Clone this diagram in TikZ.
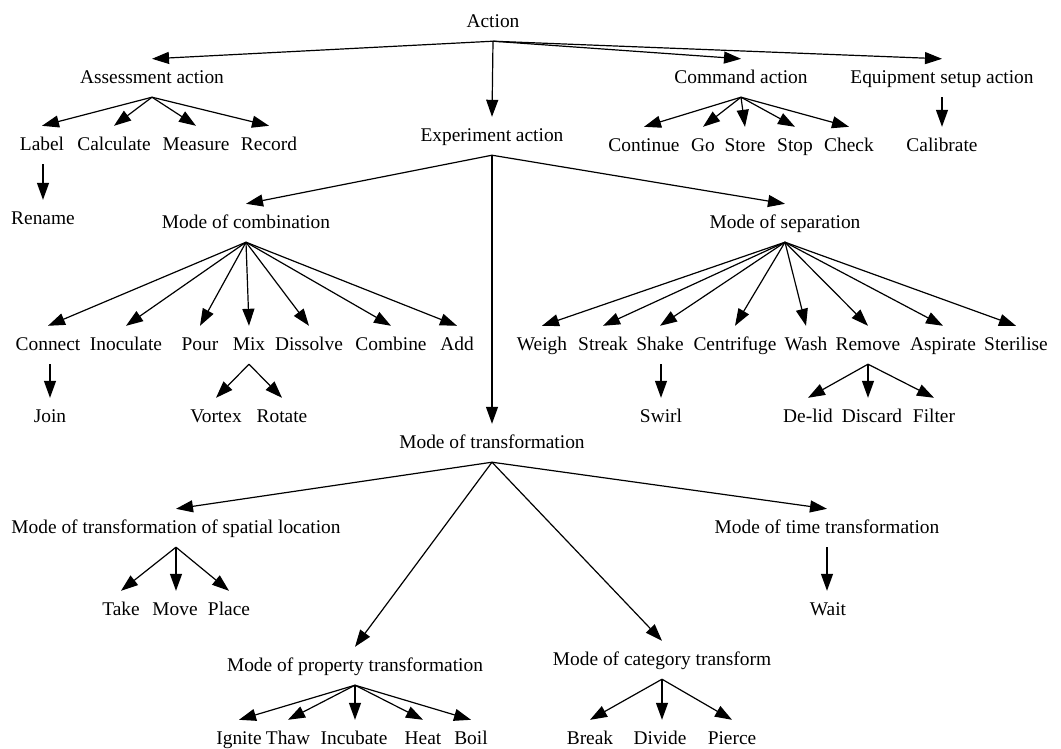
\documentclass[tikz,border=0pt]{standalone}
\usepackage{fontspec}
\setmainfont{Liberation Serif}
\usetikzlibrary{arrows.meta}
\tikzset{
  tx/.style={font=\fontsize{19.4pt}{23pt}\selectfont,text height=13pt,text depth=3pt,
    inner xsep=0pt,inner ysep=11pt},
  ar/.style={-{Triangle[length=17pt,width=12pt]},line width=1.2pt}
}
\begin{document}
\begin{tikzpicture}[x=1pt,y=-1pt]
\useasboundingbox (0,0) rectangle (1061,748);
\node[tx] (act) at (493,22) {Action};
\node[tx] (ass) at (152,78) {Assessment action};
\node[tx] (exp) at (492,136) {Experiment action};
\node[tx] (cmd) at (741,78) {Command action};
\node[tx] (equ) at (942,78) {Equipment setup action};
\node[tx] (lab) at (42,145) {Label};
\node[tx] (cal) at (114,145) {Calculate};
\node[tx] (mea) at (196,145) {Measure};
\node[tx] (rec) at (269,145) {Record};
\node[tx] (ren) at (43,219) {Rename};
\node[tx] (con) at (644,146) {Continue};
\node[tx] (go) at (703,146) {Go};
\node[tx] (sto) at (745,146) {Store};
\node[tx] (stp) at (795,146) {Stop};
\node[tx] (chk) at (849,146) {Check};
\node[tx] (cbr) at (942,146) {Calibrate};
\node[tx] (comb) at (246,223) {Mode of combination};
\node[tx] (sep) at (785,223) {Mode of separation};
\node[tx] (cnn) at (48,345) {Connect};
\node[tx] (ino) at (126,345) {Inoculate};
\node[tx] (pou) at (200,345) {Pour};
\node[tx] (mix) at (249,345) {Mix};
\node[tx] (dis) at (309,345) {Dissolve};
\node[tx] (cmb) at (391,345) {Combine};
\node[tx] (add) at (457,345) {Add};
\node[tx] (joi) at (50,417) {Join};
\node[tx] (vor) at (216,417) {Vortex};
\node[tx] (rot) at (282,417) {Rotate};
\node[tx] (wei) at (542,345) {Weigh};
\node[tx] (str) at (603,345) {Streak};
\node[tx] (sha) at (660,345) {Shake};
\node[tx] (cen) at (735,345) {Centrifuge};
\node[tx] (was) at (806,345) {Wash};
\node[tx] (rem) at (868,345) {Remove};
\node[tx] (asp) at (943,345) {Aspirate};
\node[tx] (ste) at (1016,345) {Sterilise};
\node[tx] (swi) at (661,417) {Swirl};
\node[tx] (del) at (808,417) {De-lid};
\node[tx] (dsc) at (872,417) {Discard};
\node[tx] (fil) at (934,417) {Filter};
\node[tx] (trf) at (492,443) {Mode of transformation};
\node[tx] (spa) at (176,528) {Mode of transformation of spatial location};
\node[tx] (tim) at (827,528) {Mode of time transformation};
\node[tx] (pro) at (355,666) {Mode of property transformation};
\node[tx] (cat) at (662,660) {Mode of category transform};
\node[tx] (tak) at (121,610) {Take};
\node[tx] (mov) at (175,610) {Move};
\node[tx] (pla) at (229,610) {Place};
\node[tx] (wai) at (828,610) {Wait};
\node[tx] (ign) at (239,739) {Ignite};
\node[tx] (tha) at (288,739) {Thaw};
\node[tx] (inc) at (354,739) {Incubate};
\node[tx] (hea) at (423,739) {Heat};
\node[tx] (boi) at (471,739) {Boil};
\node[tx] (bre) at (590,739) {Break};
\node[tx] (div) at (660,739) {Divide};
\node[tx] (pie) at (732,739) {Pierce};
\path (act.south) edge[ar] (ass.north) edge[ar] (exp.north)
  edge[ar] (cmd.north) edge[ar] (equ.north);
\path (ass.south) edge[ar] (lab.north) edge[ar] (cal.north)
  edge[ar] (mea.north) edge[ar] (rec.north);
\path (ren.north |- lab.south) edge[ar] (ren.north);
\path (cmd.south) edge[ar] (con.north) edge[ar] (go.north) edge[ar] (sto.north)
  edge[ar] (stp.north) edge[ar] (chk.north);
\path (equ.south) edge[ar] (cbr.north);
\path (exp.south) edge[ar] (comb.north) edge[ar] (sep.north) edge[ar] (trf.north);
\path (comb.south) edge[ar] (cnn.north) edge[ar] (ino.north) edge[ar] (pou.north)
  edge[ar] (mix.north) edge[ar] (dis.north) edge[ar] (cmb.north) edge[ar] (add.north);
\path (joi.north |- cnn.south) edge[ar] (joi.north);
\path (mix.south) edge[ar] (vor.north) edge[ar] (rot.north);
\path (sep.south) edge[ar] (wei.north) edge[ar] (str.north) edge[ar] (sha.north)
  edge[ar] (cen.north) edge[ar] (was.north) edge[ar] (rem.north)
  edge[ar] (asp.north) edge[ar] (ste.north);
\path (swi.north |- sha.south) edge[ar] (swi.north);
\path (rem.south) edge[ar] (del.north) edge[ar] (rem.south |- dsc.north) edge[ar] (fil.north);
\path (trf.south) edge[ar] (spa.north) edge[ar] (tim.north)
  edge[ar] (pro.north) edge[ar] (cat.north);
\path (spa.south) edge[ar] (tak.north) edge[ar] (spa.south |- mov.north) edge[ar] (pla.north);
\path (tim.south) edge[ar] (tim.south |- wai.north);
\path (pro.south) edge[ar] (ign.north) edge[ar] (tha.north) edge[ar] (pro.south |- inc.north)
  edge[ar] (hea.north) edge[ar] (boi.north);
\path (cat.south) edge[ar] (bre.north) edge[ar] (cat.south |- div.north) edge[ar] (pie.north);
\end{tikzpicture}
\end{document}
